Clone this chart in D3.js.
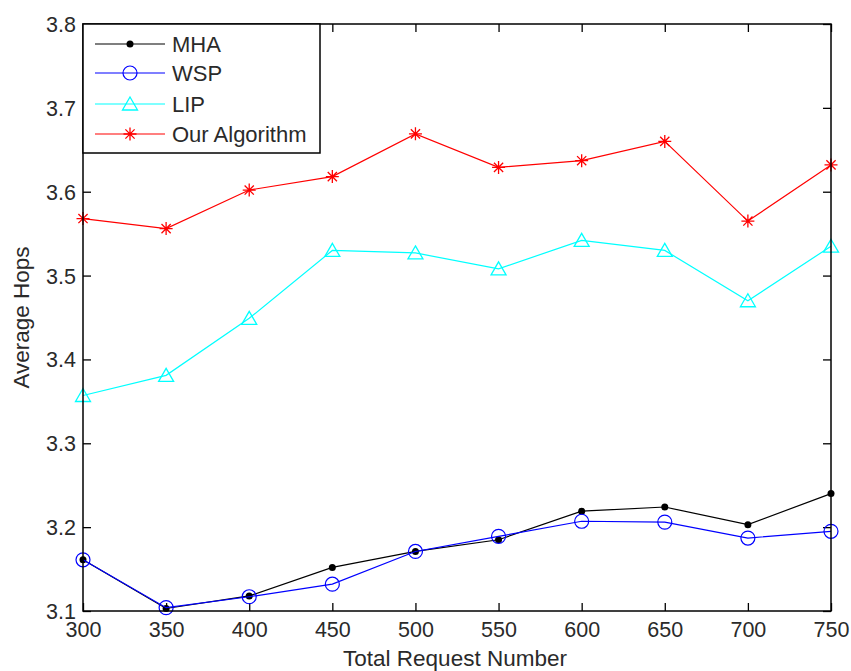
<!DOCTYPE html>
<html>
<head>
<meta charset="utf-8">
<script src="https://cdn.jsdelivr.net/npm/d3@7"></script>
<style>
  html, body { margin: 0; padding: 0; background: #fff; }
  svg text { font-family: "Liberation Sans", Arial, sans-serif; fill: #2a2a2a; }
</style>
</head>
<body>
<svg id="chart" width="851" height="671"></svg>
<script>
// ---- data ----
const requestNumbers = [300, 350, 400, 450, 500, 550, 600, 650, 700, 750];
const mhaValues = [3.161, 3.103, 3.118, 3.152, 3.171, 3.185, 3.219, 3.224, 3.203, 3.240];
const wspValues = [3.161, 3.104, 3.117, 3.132, 3.171, 3.189, 3.207, 3.206, 3.187, 3.195];
const lipValues = [3.357, 3.381, 3.449, 3.530, 3.527, 3.508, 3.542, 3.530, 3.470, 3.535];
const ourValues = [3.568, 3.556, 3.602, 3.618, 3.669, 3.629, 3.637, 3.660, 3.565, 3.632];
const seriesNames = ["MHA", "WSP", "LIP", "Our Algorithm"];
const yTickValues = [3.1, 3.2, 3.3, 3.4, 3.5, 3.6, 3.7, 3.8];
const xLabel = "Total Request Number";
const yLabel = "Average Hops";

// ---- layout ----
const pLeft = 83, pRight = 831, pTop = 24, pBottom = 611;
const svg = d3.select("#chart");
const x = d3.scaleLinear().domain([300, 750]).range([pLeft, pRight]);
const y = d3.scaleLinear().domain([3.1, 3.8]).range([pBottom, pTop]);
const tickFS = 21.5, labelFS = 22.5, legendFS = 22;

const series = [
  { name: seriesNames[0], values: mhaValues, color: "#000000", marker: "dot" },
  { name: seriesNames[1], values: wspValues, color: "#0000ff", marker: "circle" },
  { name: seriesNames[2], values: lipValues, color: "#00ffff", marker: "triangle" },
  { name: seriesNames[3], values: ourValues, color: "#ff0000", marker: "star" }
];

// ---- axes (ticks inward on all four sides) ----
const tk = 8;
const gB = svg.append("g").attr("transform", `translate(0,${pBottom})`)
  .call(d3.axisBottom(x).tickValues(requestNumbers).tickSize(-tk).tickSizeOuter(0).tickFormat(d3.format("d")));
gB.selectAll("text").attr("y", 26).attr("dy", 0).style("font-size", tickFS + "px");
const gT = svg.append("g").attr("transform", `translate(0,${pTop})`)
  .call(d3.axisTop(x).tickValues(requestNumbers).tickSize(-tk).tickSizeOuter(0).tickFormat(""));
const gL = svg.append("g").attr("transform", `translate(${pLeft},0)`)
  .call(d3.axisLeft(y).tickValues(yTickValues).tickSize(-tk).tickSizeOuter(0).tickFormat(d3.format(".1f")));
gL.selectAll("text").attr("x", -7).attr("dy", "0.35em").style("font-size", tickFS + "px");
const gR = svg.append("g").attr("transform", `translate(${pRight},0)`)
  .call(d3.axisRight(y).tickValues(yTickValues).tickSize(-tk).tickSizeOuter(0).tickFormat(""));
[gB, gT, gL, gR].forEach(g => {
  g.select(".domain").remove();
  g.selectAll(".tick line").attr("stroke", "#000").attr("stroke-width", 1.3);
});

// ---- markers ----
function drawMarker(g, type, color) {
  if (type === "dot") {
    g.append("circle").attr("r", 3.5).attr("fill", color);
  } else if (type === "circle") {
    g.append("circle").attr("r", 7).attr("fill", "none").attr("stroke", color).attr("stroke-width", 1.2);
  } else if (type === "triangle") {
    g.append("path").attr("d", "M0,-7 L7.5,6 L-7.5,6 Z").attr("fill", "none")
      .attr("stroke", color).attr("stroke-width", 1.3);
  } else if (type === "star") {
    const s = 6.5, d = 4.6;
    g.append("path").attr("d", `M${-s},0H${s}M0,${-s}V${s}M${-d},${-d}L${d},${d}M${-d},${d}L${d},${-d}`)
      .attr("fill", "none").attr("stroke", color).attr("stroke-width", 1.3);
  }
}

const line = d3.line().x((d, i) => x(requestNumbers[i])).y(d => y(d));
series.forEach(s => {
  const g = svg.append("g");
  g.append("path").datum(s.values).attr("d", line).attr("fill", "none")
    .attr("stroke", s.color).attr("stroke-width", 1.2);
  s.values.forEach((v, i) => {
    const m = g.append("g").attr("transform", `translate(${x(requestNumbers[i])},${y(v)})`);
    drawMarker(m, s.marker, s.color);
  });
});

// ---- axes box ----
svg.append("rect").attr("x", pLeft).attr("y", pTop).attr("width", pRight - pLeft).attr("height", pBottom - pTop)
  .attr("fill", "none").attr("stroke", "#000").attr("stroke-width", 1.5);

// ---- axis labels ----
svg.append("text").attr("x", 455).attr("y", 666).attr("text-anchor", "middle")
  .style("font-size", labelFS + "px").text(xLabel);
svg.append("text").attr("transform", `translate(29,${(pTop + pBottom) / 2}) rotate(-90)`)
  .attr("text-anchor", "middle").style("font-size", labelFS + "px").text(yLabel);

// ---- legend ----
const lg = svg.append("g");
lg.append("rect").attr("x", pLeft).attr("y", pTop).attr("width", 320 - pLeft).attr("height", 153 - pTop)
  .attr("fill", "#fff").attr("stroke", "#000").attr("stroke-width", 1.5);
const legendY = [44, 73, 104, 134];
series.forEach((s, i) => {
  const ly = legendY[i];
  lg.append("line").attr("x1", 95).attr("x2", 165).attr("y1", ly).attr("y2", ly)
    .attr("stroke", s.color).attr("stroke-width", 1.2);
  const m = lg.append("g").attr("transform", `translate(130,${ly})`);
  drawMarker(m, s.marker, s.color);
  lg.append("text").attr("x", 172).attr("y", ly).attr("dy", "0.36em")
    .style("font-size", legendFS + "px").text(s.name);
});
</script>
</body>
</html>
